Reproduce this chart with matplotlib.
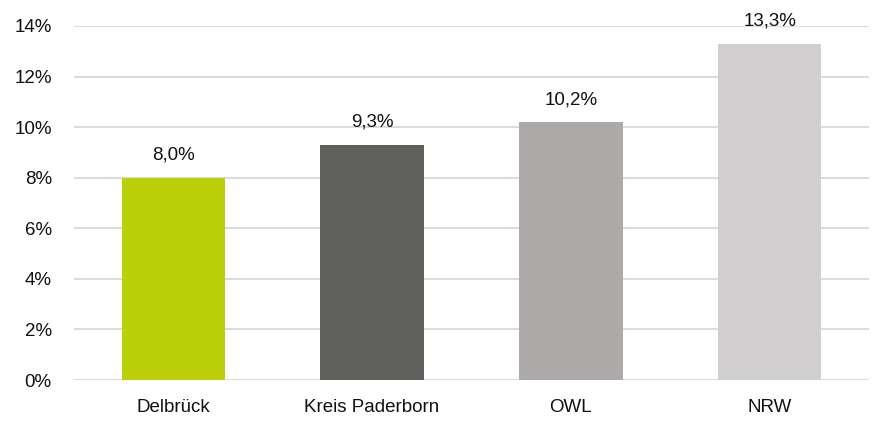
import matplotlib.pyplot as plt
import numpy as np

# Data
categories = ["Delbrück", "Kreis Paderborn", "OWL", "NRW"]
values = [8.0, 9.3, 10.2, 13.3]
colors = ["#BCD00A", "#5F5F5C", "#AEAAA9", "#D0CECF"]
yticks = [0, 2, 4, 6, 8, 10, 12, 14]

plt.rcParams['font.family'] = ['Liberation Sans', 'DejaVu Sans']

fig = plt.figure(figsize=(8.75, 4.23), dpi=100)
ax = fig.add_axes([74 / 875, 1 - 380 / 423, 795 / 875, 354 / 423])

x = np.arange(len(categories))
ax.bar(x, values, width=0.52, color=colors, zorder=3)

# Value labels
for xi, v in zip(x, values):
    ax.text(xi, v + 0.55, f"{v:.1f}%".replace(".", ","), ha="center", va="bottom",
            fontsize=13.5, color="#111111")

ax.set_xlim(-0.5, len(categories) - 0.5)
ax.set_ylim(0, 14)
ax.set_yticks(yticks)
ax.set_yticklabels([f"{t}%" for t in yticks], fontsize=13.5, color="#111111")
ax.set_xticks(x)
ax.set_xticklabels(categories, fontsize=13.5, color="#111111")

ax.grid(axis="y", color="#DCDCDC", linewidth=1.5, zorder=0)
for s in ax.spines.values():
    s.set_visible(False)
ax.tick_params(axis="both", length=0)
ax.tick_params(axis="y", pad=16)
ax.tick_params(axis="x", pad=14)

fig.savefig("out.png", dpi=100)
